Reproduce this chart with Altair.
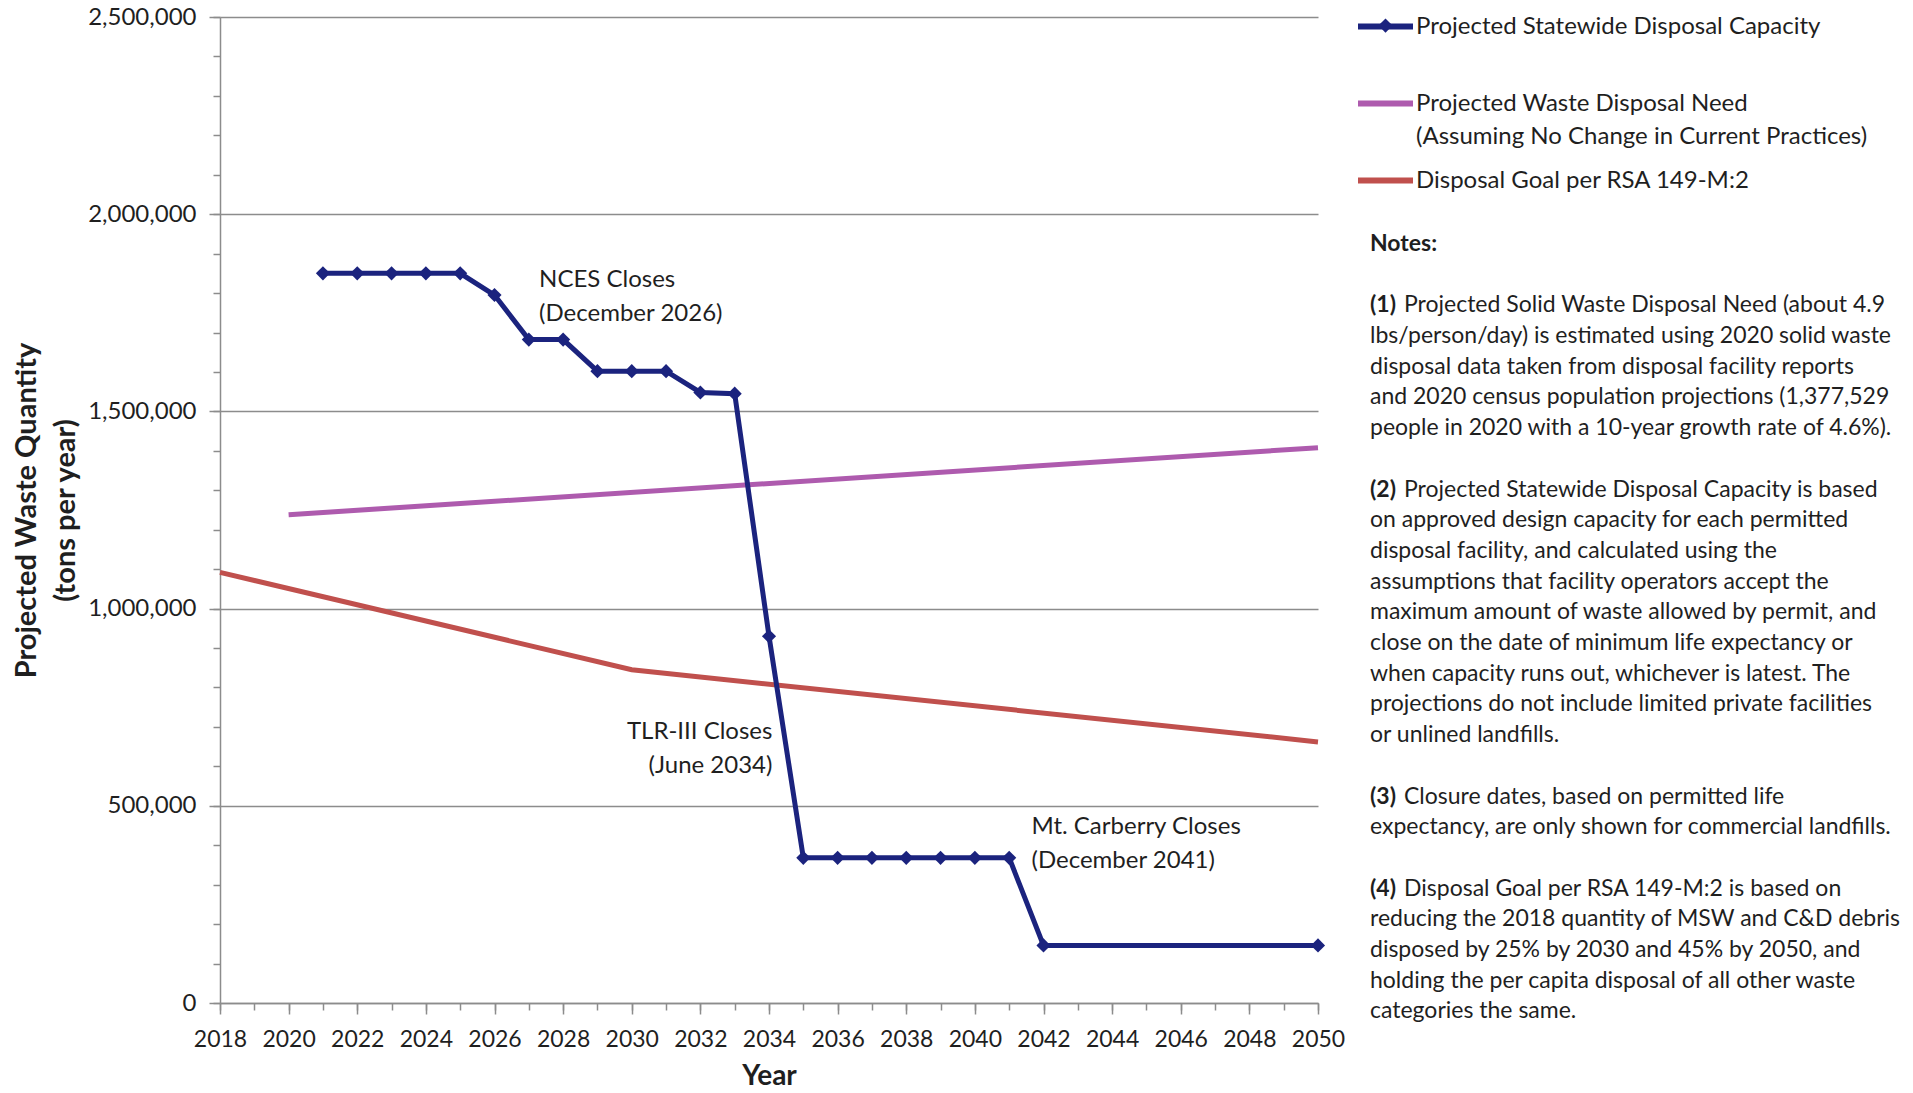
import altair as alt
import pandas as pd

FONT = "Lato"
TXT = "#1f1f1f"
GRID = "#8c8c8c"

# ---------------- data ----------------
series_names = [
    "Projected Statewide Disposal Capacity",
    "Projected Waste Disposal Need",
    "Disposal Goal per RSA 149-M:2",
]
series_colors = ["#1B237E", "#AE5BAE", "#C0504D"]

cap_years = [2021, 2022, 2023, 2024, 2025, 2026, 2027, 2028, 2029, 2030, 2031,
             2032, 2033, 2034, 2035, 2036, 2037, 2038, 2039, 2040, 2041, 2042, 2050]
cap_values = [1850000, 1850000, 1850000, 1850000, 1850000, 1795000, 1682000, 1682000,
              1602000, 1602000, 1602000, 1548000, 1545000, 930000, 368000, 368000,
              368000, 368000, 368000, 368000, 368000, 146000, 146000]

need_years = [2020, 2050]
need_values = [1238000, 1408000]

goal_years = [2018, 2030, 2050]
goal_values = [1092000, 845000, 662000]

ann_left_year = [2027.3, 2027.3, 2041.65, 2041.65]
ann_left_value = [1832000, 1748000, 446000, 359000]
ann_left_text = ["NCES Closes", "(December 2026)", "Mt. Carberry Closes", "(December 2041)"]

ann_right_year = [2034.1, 2034.1]
ann_right_value = [687000, 600000]
ann_right_text = ["TLR-III Closes", "(June 2034)"]

x_major = list(range(2018, 2051, 2))
x_minor = list(range(2018, 2051))
y_major = [0, 500000, 1000000, 1500000, 2000000, 2500000]
y_minor = list(range(0, 2500001, 100000))

legend_extra = "(Assuming No Change in Current Practices)"
notes_title = "Notes:"
notes = [
    ("(1)", "Projected Solid Waste Disposal Need (about 4.9",
     ["lbs/person/day) is estimated using 2020 solid waste",
      "disposal data taken from disposal facility reports",
      "and 2020 census population projections (1,377,529",
      "people in 2020 with a 10-year growth rate of 4.6%)."]),
    ("(2)", "Projected Statewide Disposal Capacity is based",
     ["on approved design capacity for each permitted",
      "disposal facility, and calculated using the",
      "assumptions that facility operators accept the",
      "maximum amount of waste allowed by permit, and",
      "close on the date of minimum life expectancy or",
      "when capacity runs out, whichever is latest. The",
      "projections do not include limited private facilities",
      "or unlined landfills."]),
    ("(3)", "Closure dates, based on permitted life",
     ["expectancy, are only shown for commercial landfills."]),
    ("(4)", "Disposal Goal per RSA 149-M:2 is based on",
     ["reducing the 2018 quantity of MSW and C&D debris",
      "disposed by 25% by 2030 and 45% by 2050, and",
      "holding the per capita disposal of all other waste",
      "categories the same."]),
]

# ---------------- tables ----------------
rows = []
for name, ys, vs in zip(series_names, [cap_years, need_years, goal_years],
                        [cap_values, need_values, goal_values]):
    for yy, vv in zip(ys, vs):
        rows.append({"series": name, "year": yy, "value": vv})
df = pd.DataFrame(rows)
ann_left = pd.DataFrame({"year": ann_left_year, "value": ann_left_value, "text": ann_left_text})
ann_right = pd.DataFrame({"year": ann_right_year, "value": ann_right_value, "text": ann_right_text})

W, H = 1098, 986

x_scale = alt.Scale(domain=[2018, 2050], nice=False, zero=False)
y_scale = alt.Scale(domain=[0, 2500000], nice=False)

x_axis = alt.Axis(values=x_major, format="d", title="Year", grid=False,
                  labelFont=FONT, labelFontSize=23, labelColor=TXT, labelPadding=14,
                  labelFlush=False, labelOverlap=False,
                  tickSize=11, tickColor=GRID, tickWidth=1.5,
                  domainColor=GRID, domainWidth=1.5,
                  titleFont=FONT, titleFontSize=28, titleFontWeight="bold", titleColor=TXT,
                  titleX=W / 2, titleY=73, titleBaseline="middle", titleAlign="center")
y_axis = alt.Axis(values=y_major, format=",d",
                  title=["Projected Waste Quantity", "(tons per year)"],
                  grid=True, gridColor=GRID, gridWidth=1.5,
                  labelFont=FONT, labelFontSize=24, labelColor=TXT, labelPadding=13,
                  labelFlush=False, labelOverlap=False,
                  tickSize=11, tickColor=GRID, tickWidth=1.5,
                  domainColor=GRID, domainWidth=1.5,
                  titleFont=FONT, titleFontSize=29, titleFontWeight="bold", titleColor=TXT,
                  titleAngle=270, titleX=-194, titleY=H / 2, titleLineHeight=39,
                  titleBaseline="middle", titleAlign="center")

X = alt.X("year:Q", scale=x_scale, axis=x_axis)
Y = alt.Y("value:Q", scale=y_scale, axis=y_axis)

LEG_X, LEG_Y0 = 1135, 8.6
legend = alt.Legend(
    orient="none", legendX=LEG_X, legendY=-21, title=None, direction="vertical",
    symbolType="M-1,0L1,0", symbolSize=3025, symbolStrokeWidth=6, symbolOffset=0,
    labelFont=FONT, labelFontSize=24, labelColor=TXT, labelOffset=0, labelLimit=0,
    rowPadding=34,
)
color = alt.Color("series:N", scale=alt.Scale(domain=series_names, range=series_colors),
                  legend=legend)

bg_lines = alt.Chart(df).transform_filter(
    alt.FieldOneOfPredicate(field="series", oneOf=series_names[1:])
).mark_line(strokeWidth=5).encode(x=X, y=Y, color=color)

cap_line = alt.Chart(df).transform_filter(
    alt.FieldEqualPredicate(field="series", equal=series_names[0])
).mark_line(strokeWidth=5).encode(x=X, y=Y, color=color)

cap_pts = alt.Chart(df).transform_filter(
    alt.FieldEqualPredicate(field="series", equal=series_names[0])
).mark_point(shape="diamond", filled=True, size=200, opacity=1,
             color=series_colors[0]).encode(x=X, y=Y)

t_left = alt.Chart(ann_left).mark_text(align="left", baseline="middle", font=FONT,
                                       fontSize=24, color=TXT).encode(x=X, y=Y, text="text:N")
t_right = alt.Chart(ann_right).mark_text(align="right", baseline="middle", font=FONT,
                                         fontSize=24, color=TXT).encode(x=X, y=Y, text="text:N")

one = alt.Data(values=[{}])

leg_diamond = alt.Chart(one).mark_point(shape="diamond", filled=True, size=200, opacity=1,
                                        color=series_colors[0]).encode(
    x=alt.value(LEG_X + 30.5), y=alt.value(LEG_Y0))


def txt(s, px, py, size=23, weight="normal", lh=30.7):
    return alt.Chart(one).mark_text(text=s, align="left", baseline="middle", font=FONT,
                                    fontSize=size, fontWeight=weight, lineHeight=lh,
                                    color=TXT).encode(x=alt.value(px), y=alt.value(py))


NX, NY0, LH = 1150, 227, 30.7
text_layers = [txt(legend_extra, 1196, 119.5, size=24),
               txt(notes_title, NX, NY0, weight="bold")]
k = 2
for pre, first, rest in notes:
    text_layers.append(txt(pre, NX, NY0 + LH * k, weight="bold"))
    text_layers.append(txt(first, NX + 34, NY0 + LH * k))
    text_layers.append(txt(rest, NX, NY0 + LH * (k + 1)))
    k += 1 + len(rest) + 1

main = alt.layer(bg_lines, cap_line, cap_pts, t_left, t_right, leg_diamond, *text_layers)

minor = alt.Chart(df).mark_point(opacity=0).encode(
    x=alt.X("year:Q", scale=x_scale,
            axis=alt.Axis(values=x_minor, labels=False, tickSize=7, tickColor=GRID,
                          tickWidth=1.5, domain=False, grid=False, title=None, orient="bottom")),
    y=alt.Y("value:Q", scale=y_scale,
            axis=alt.Axis(values=y_minor, labels=False, tickSize=7, tickColor=GRID,
                          tickWidth=1.5, domain=False, grid=False, title=None, orient="left")),
)

chart = alt.layer(main, minor).resolve_scale(x="independent", y="independent").properties(
    width=W, height=H,
    autosize=alt.AutoSizeParams(type="none"),
    padding={"left": 212, "top": 9, "right": 585, "bottom": 82},
    background="white",
).configure_view(stroke=None)

chart.save("out.html", embed_options={"renderer": "svg", "actions": False})
